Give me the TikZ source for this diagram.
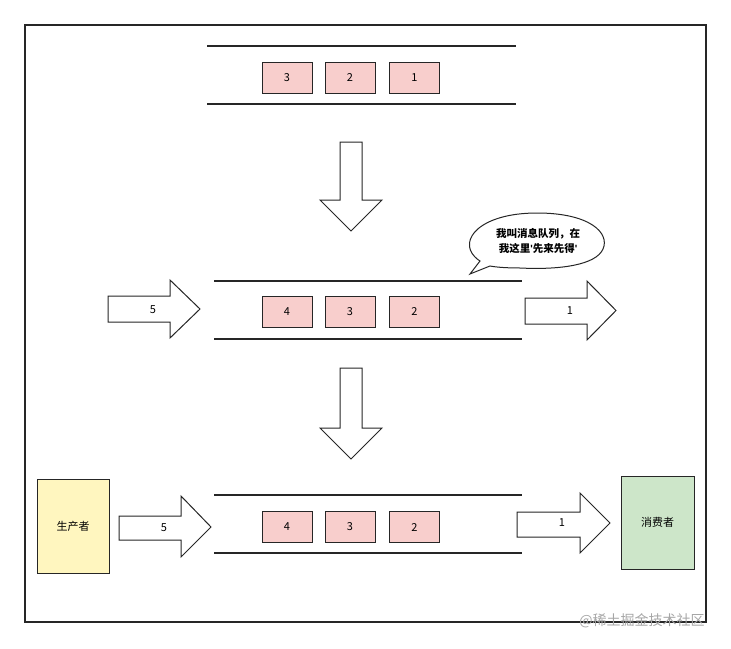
\documentclass[tikz,border=0pt]{standalone}
\usepackage{fontspec}
\setmainfont{Noto Sans CJK SC}
\newfontfamily\latq{Liberation Sans}
\definecolor{pinkf}{HTML}{F8CECC}
\definecolor{yellowf}{HTML}{FFF6BF}
\definecolor{greenf}{HTML}{CDE6C9}
\newcommand{\sq}{{\latq\bfseries\symbol{39}}}
\begin{document}
\begin{tikzpicture}[x=1pt,y=-1pt,
  item/.style={draw=black!85,fill=pinkf,line width=0.9pt,minimum width=50pt,minimum height=31pt,inner sep=0pt,font=\fontsize{11}{12}\selectfont},
  actor/.style={draw=black!85,line width=0.9pt,minimum width=72pt,minimum height=94pt,inner sep=0pt,font=\fontsize{11}{12}\selectfont},
  bigarrow/.style={draw=black!85,fill=white,line width=1pt,line join=miter},
  rail/.style={line width=1.3pt,draw=black!85},
  lbl/.style={font=\fontsize{11}{12}\selectfont,inner sep=0pt}]
\useasboundingbox (0,0) rectangle (731,648);
\draw[line width=1.2pt,black!85] (25,25) rectangle (706,622);
% top queue
\draw[rail] (207,46) -- (516,46); \draw[rail] (207,104) -- (516,104);
\node[item] (t3) at (287,77.5) {3};
\node[item] (t2) at (350,77.5) {2};
\node[item] (t1) at (414.5,77.5) {1};
% down arrow 1
\draw[bigarrow] (340,142) -- (362,142) -- (362,200) -- (382,200) -- (351,231) -- (320,200) -- (340,200) -- cycle;
% middle queue
\draw[rail] (214,281) -- (522,281); \draw[rail] (214,339) -- (522,339);
\node[item] (m4) at (287,312) {4};
\node[item] (m3) at (350,312) {3};
\node[item] (m2) at (414.5,312) {2};
\draw[bigarrow] (108,296) -- (170,296) -- (170,280) -- (200,309) -- (170,338) -- (170,322) -- (108,322) -- cycle;
\node[lbl] (in5a) at (153,310) {5};
\draw[bigarrow] (525,298) -- (587,298) -- (587,281) -- (616,310.5) -- (587,340) -- (587,324) -- (525,324) -- cycle;
\node[lbl] (out1a) at (570,311) {1};
% bubble
\draw[line width=1pt,black!85,fill=white] (475,257) .. controls (458,240) and (480,213) .. (537,213) .. controls (590,213) and (610,233) .. (603,249) .. controls (596,265) and (560,270) .. (520,268) .. controls (505,268) and (495,267) .. (490,266) -- (470,274) -- (480,261) .. controls (477,259) and (476,258) .. (475,257);
\node[lbl,align=center,font=\fontsize{10.5}{15}\selectfont\bfseries] (bubble) at (538,241) {我叫消息队列，在\\我这里\sq 先来先得\sq};
% down arrow 2
\draw[bigarrow] (340,368) -- (362,368) -- (362,428) -- (382,428) -- (351,459) -- (320,428) -- (340,428) -- cycle;
% bottom queue
\draw[rail] (214,495) -- (522,495); \draw[rail] (214,553) -- (522,553);
\node[item] (b4) at (287,527) {4};
\node[item] (b3) at (350,527) {3};
\node[item] (b2) at (414.5,527) {2};
\node[actor,fill=yellowf] (prod) at (73,526.5) {生产者};
\node[actor,fill=greenf,minimum width=73pt,minimum height=93pt] (cons) at (657.5,522.5) {消费者};
\draw[bigarrow] (119,516) -- (181,516) -- (181,496) -- (211,527) -- (181,557) -- (181,540) -- (119,540) -- cycle;
\node[lbl] (in5b) at (164,528) {5};
\draw[bigarrow] (517,512) -- (580,512) -- (580,493) -- (610,523) -- (580,553) -- (580,537) -- (517,537) -- cycle;
\node[lbl] (out1b) at (562,523) {1};
\node[lbl,text=black!35,font=\fontsize{14}{15}\selectfont] (wm) at (642,621) {@稀土掘金技术社区};
\end{tikzpicture}
\end{document}
